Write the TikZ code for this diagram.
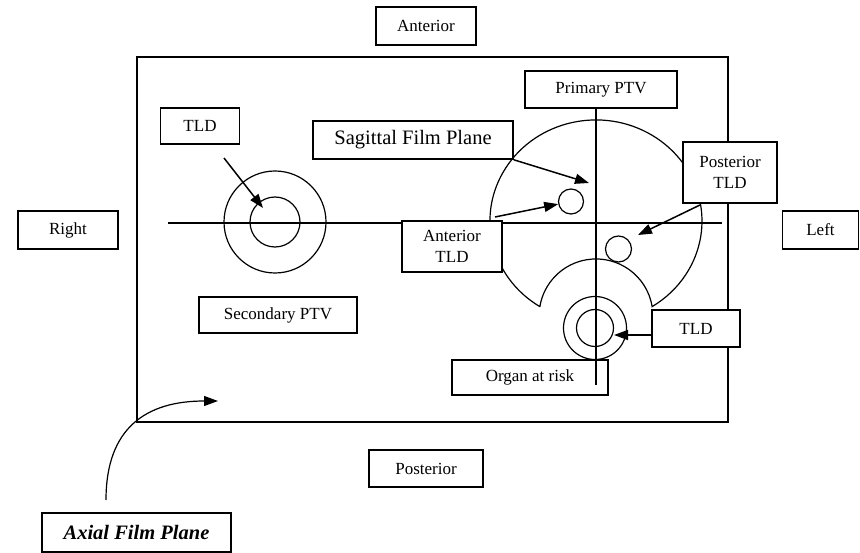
\documentclass[tikz,border=0pt]{standalone}
\usepackage{fontspec}
\setmainfont{Liberation Serif}
\usetikzlibrary{arrows.meta}

\begin{document}
\begin{tikzpicture}[x = 1pt, y = -1pt, line width = 1.2pt,
                        box/.style = {draw, fill = white, line width = 1.6pt, inner sep = 0pt, align = center,
                                      font = \fontsize{17}{20.5}\selectfont},
                        ring/.style = {circle, draw, inner sep = 0pt},
                        arr/.style = {-{Triangle[length = 14pt, width = 10pt]}, line width = 1.5pt}]
      \useasboundingbox (0, 0) rectangle (860, 553);
      % film frame and the transverse plane
      \draw[line width = 1.6pt] (137, 57) rectangle (728, 422);
      \coordinate (hL) at (168, 223);
      \coordinate (hR) at (722, 223);
      \draw[line width = 1.4pt] (hL) -- (hR);
      % primary PTV with the organ at risk cut out
      \draw (539.8, 306.6) arc[start angle = 122, end angle = 418, x radius = 106, y radius = 101]
            arc[start angle = -9.36, end angle = -170.64, radius = 56.9] -- cycle;
      % labels round the frame
      \node [box, minimum width = 100pt, minimum height = 38pt] (ant) at (426, 26){Anterior};
      \node [box, minimum width = 114pt, minimum height = 37pt] (post) at (426, 468.5){Posterior};
      \node [box, minimum width = 100pt, minimum height = 38pt] (right) at (68, 230){Right};
      \node [box, minimum width = 76pt, minimum height = 38pt] (left) at (820.5, 230){Left};
      % secondary PTV
      \node [ring, minimum size = 102pt] (secOut) at (275, 222){};
      \node [ring, minimum size = 50pt] (secIn) at (275, 222){};
      \node [box, minimum width = 79pt, minimum height = 36pt] (tldL) at (200, 126){TLD};
      \node [box, minimum width = 158pt, minimum height = 36pt] (sec) at (278, 315){Secondary PTV};
      \coordinate (tldLs) at (224, 158);
      \coordinate (tldLe) at (263, 208);
      \draw[arr] (tldLs) -- (tldLe);
      % primary PTV side
      \node [box, minimum width = 152pt, minimum height = 37pt] (prim) at (601, 89.5){Primary PTV};
      \node [box, minimum width = 200pt, minimum height = 38pt,
             font = \fontsize{20.5}{24}\selectfont] (sag) at (413, 140){Sagittal Film Plane};
      \node [box, minimum width = 100pt, minimum height = 51pt] (antTLD) at (452, 246.5){Anterior\\TLD};
      \node [box, minimum width = 94pt, minimum height = 61pt] (postTLD) at (730, 172.5){Posterior\\TLD};
      \node [ring, minimum size = 25pt] (antC) at (571, 201.5){};
      \node [ring, minimum size = 26pt] (postC) at (618.5, 249){};
      \coordinate (sagE) at (589, 183);
      \coordinate (antS) at (495, 217);
      \coordinate (postS) at (700, 205);
      \coordinate (postE) at (638, 235);
      \draw[arr] (sag.south east) -- (sagE);
      \draw[arr] (antS) -- (antC);
      \draw[arr] (postS) -- (postE);
      % organ at risk
      \node [ring, minimum size = 63pt] (oarOut) at (595, 328){};
      \node [ring, minimum size = 37pt] (oarIn) at (595, 328){};
      \node [box, minimum width = 88pt, minimum height = 37pt] (tldR) at (696, 328.5){TLD};
      \node [box, minimum width = 156pt, minimum height = 35pt] (oar) at (530, 377.5){Organ at risk};
      \coordinate (tldRs) at (652, 335);
      \coordinate (tldRe) at (614, 335);
      \draw[arr] (tldRs) -- (tldRe);
      % sagittal plane
      \coordinate (vB) at (596, 385);
      \draw[line width = 1.4pt] (prim.south -| vB) -- (vB);
      % axial plane
      \node [box, minimum width = 189pt, minimum height = 39pt,
             font = \fontsize{20.5}{24}\selectfont\bfseries\itshape] (axial) at (136.5, 532.5){Axial Film Plane};
      \coordinate (axS) at (106, 500);
      \coordinate (axE) at (218, 401);
      \draw[arr, line width = 1.2pt] (axS) .. controls (106, 428) and (146, 401) .. (axE);
    \end{tikzpicture}
\end{document}
